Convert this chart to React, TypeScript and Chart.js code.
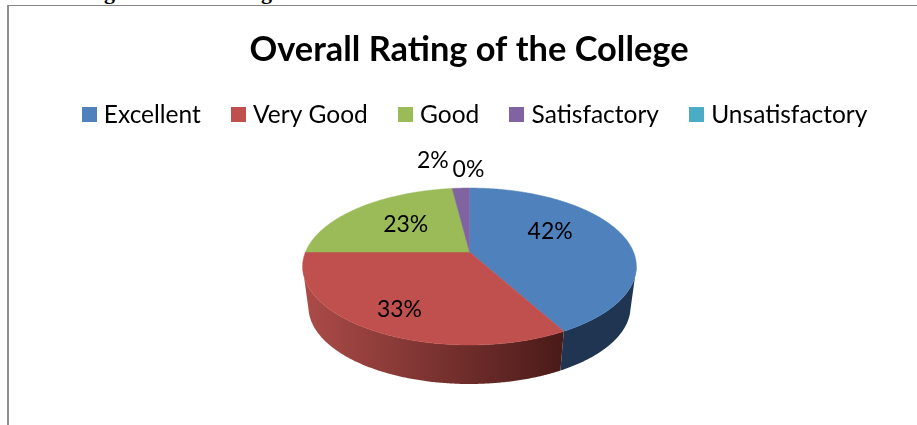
import React, { useEffect, useRef } from "react";
import { Chart, registerables } from "chart.js";

Chart.register(...registerables);

const categories = ["Excellent", "Very Good", "Good", "Satisfactory", "Unsatisfactory"];
const ratings = [42, 33, 23, 2, 0];
const percentLabels = ["42%", "33%", "23%", "2%", "0%"];
const topColors = ["#4F81BD", "#C0504D", "#9BBB59", "#8064A2", "#4BACC6"];
const chartTitle = "Overall Rating of the College";

const FONT = "Lato, Carlito, sans-serif";

// Perspective projection of the pie disc
const CX = 469.5;
const APEX_Y = 252;
const A = 164;
const B = 75.8;
const K = -0.185;
const WIDEST_Y = 266.5;
const BASE = { cy: 307, a: 161, b: 77, ratio: 161 / 167 };
// radial placement of the percent labels, with a nudge
const labelRadius = [0.52, 0.74, 0.6, 1, 1];
const labelNudgeX = [0, 0, 5, -28, -1];
const labelNudgeY = [-11, 3, 1, -28, -18];

function project(angle: number, r = 1) {
  const theta = angle + Math.PI / 2;
  const u = Math.sin(theta) * r;
  const v = -Math.cos(theta) * r;
  const w = 1 + K * v;
  return { x: CX + (A * u) / w, y: APEX_Y + (B * v) / w };
}

function projectBase(angle: number) {
  const top = project(angle);
  const dx = (top.x - CX) * BASE.ratio;
  const h = Math.sqrt(Math.max(0, 1 - (dx / BASE.a) ** 2));
  return { x: CX + dx, y: BASE.cy + BASE.b * h };
}

const pie3d = {
  id: "pie3d",
  afterLayout(chart: any) {
    chart.legend.left += 8;
    chart.legend.right += 8;
  },
  beforeDatasetsDraw(chart: any) {
    const ctx = chart.ctx as CanvasRenderingContext2D;
    const arcs = chart.getDatasetMeta(0).data;
    const step = Math.PI / 360;

    // side wall: only the front of the disc shows a wall
    const redGrad = ctx.createLinearGradient(306, 0, 566, 0);
    redGrad.addColorStop(0, "#AB4B48");
    redGrad.addColorStop(1, "#491A18");
    const sideColors: any[] = ["#1F3552", redGrad, "#5C7034", "#4C3C61", "#2D6776"];
    arcs.forEach((arc: any, i: number) => {
      if (arc.endAngle - arc.startAngle <= 0) return;
      const top: any[] = [];
      const bot: any[] = [];
      for (let a = arc.startAngle; ; a += step) {
        const an = Math.min(a, arc.endAngle);
        const p = project(an);
        if (p.y >= WIDEST_Y) {
          top.push(p);
          bot.push(projectBase(an));
        }
        if (a >= arc.endAngle) break;
      }
      if (top.length < 2) return;
      ctx.beginPath();
      top.forEach((p, n) => (n ? ctx.lineTo(p.x, p.y) : ctx.moveTo(p.x, p.y)));
      bot.reverse().forEach((p) => ctx.lineTo(p.x, p.y));
      ctx.closePath();
      ctx.fillStyle = sideColors[i];
      ctx.fill();
    });

    // top face
    arcs.forEach((arc: any, i: number) => {
      if (arc.endAngle - arc.startAngle <= 0) return;
      ctx.beginPath();
      const apex = project(0, 0);
      ctx.moveTo(apex.x, apex.y);
      for (let a = arc.startAngle; ; a += step) {
        const an = Math.min(a, arc.endAngle);
        const p = project(an);
        ctx.lineTo(p.x, p.y);
        if (a >= arc.endAngle) break;
      }
      ctx.closePath();
      ctx.fillStyle = topColors[i];
      ctx.strokeStyle = topColors[i];
      ctx.lineWidth = 0.5;
      ctx.fill();
      ctx.stroke();
    });

    // percent labels
    ctx.fillStyle = "#000";
    ctx.font = `23px ${FONT}`;
    ctx.textAlign = "center";
    ctx.textBaseline = "middle";
    arcs.forEach((arc: any, i: number) => {
      const mid = (arc.startAngle + arc.endAngle) / 2;
      const p = project(mid, labelRadius[i]);
      ctx.fillText(percentLabels[i], p.x + labelNudgeX[i], p.y + labelNudgeY[i]);
    });
    return false;
  },
};

function swatch(color: string) {
  const c = document.createElement("canvas");
  c.width = 15;
  c.height = 15;
  const g = c.getContext("2d")!;
  g.fillStyle = color;
  g.fillRect(0, 0, 15, 15);
  return c;
}

export default function App() {
  const ref = useRef<HTMLCanvasElement>(null);
  useEffect(() => {
    const chart = new Chart(ref.current!, {
      type: "pie",
      data: {
        labels: categories,
        datasets: [{ data: ratings, backgroundColor: topColors, borderWidth: 0 }],
      },
      options: {
        animation: false,
        responsive: false,
        devicePixelRatio: 1,
        layout: { padding: { top: 33, left: 21 } },
        plugins: {
          tooltip: { enabled: false },
          title: {
            display: true,
            text: chartTitle,
            color: "#000",
            font: { family: FONT, size: 34.4, weight: "bold", lineHeight: 1 },
            padding: 0,
          },
          legend: {
            position: "top",
            labels: {
              color: "#000",
              font: { family: FONT, size: 24.5 },
              usePointStyle: true,
              pointStyleWidth: 5,
              padding: 35,
              generateLabels: () =>
                categories.map((text, i) => ({
                  text,
                  fillStyle: topColors[i],
                  strokeStyle: topColors[i],
                  lineWidth: 0,
                  pointStyle: swatch(topColors[i]),
                  index: i,
                })),
            },
          },
        },
      } as any,
      plugins: [pie3d],
    });
    return () => chart.destroy();
  }, []);

  const clip: React.CSSProperties = {
    position: "absolute",
    top: -19,
    fontFamily: "'Liberation Serif', serif",
    fontWeight: "bold",
    fontSize: 22,
    lineHeight: "22px",
    color: "#000",
  };
  return (
    <div style={{ position: "absolute", left: 0, top: 0, width: 917, height: 425, overflow: "hidden", background: "#fff" }}>
      <span style={{ ...clip, left: 104 }}>g</span>
      <span style={{ ...clip, left: 261 }}>g</span>
      <div style={{ position: "absolute", left: 7, top: 5, width: 910, height: 420, borderTop: "1px solid #868686", borderLeft: "2px solid #8e8e8e", boxSizing: "border-box" }} />
      <canvas ref={ref} width={917} height={425} style={{ position: "absolute", left: 0, top: 0, display: "block" }} />
    </div>
  );
}
